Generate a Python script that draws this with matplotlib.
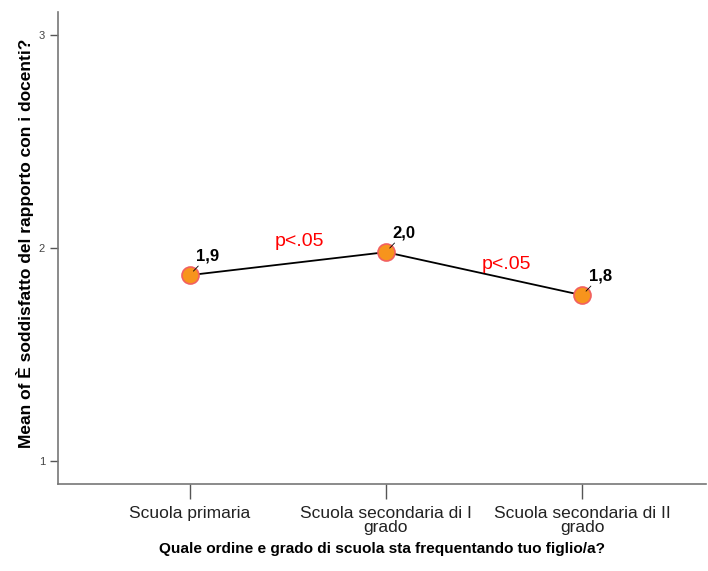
import numpy as np
import matplotlib
matplotlib.use('Agg')
import matplotlib.pyplot as plt

plt.rcParams['font.family'] = ['Liberation Sans', 'DejaVu Sans']

# dati
categorie = ['Scuola primaria', 'Scuola secondaria di I\ngrado', 'Scuola secondaria di II\ngrado']
medie = [1.873, 1.981, 1.779]
etichette = ['1,9', '2,0', '1,8']
sig_labels = ['p<.05', 'p<.05']
sig_pos = [(0.56, 1.99), (1.616, 1.883)]

fig = plt.figure(figsize=(7.08, 5.71), dpi=100)
ax = fig.add_axes([0.082, 0.152, 0.915, 0.827])

x = np.arange(len(categorie))
ax.plot(x, medie, color='black', lw=1.3, zorder=2)
ax.scatter(x, medie, s=150, color='#f7941d', edgecolor='#f26060', linewidth=1.2, zorder=3)

for xi, yi, lab in zip(x, medie, etichette):
    ax.annotate(lab, xy=(xi, yi), xytext=(xi + 0.035, yi + 0.07), fontsize=12, fontweight='bold',
                annotation_clip=False,
                arrowprops=dict(arrowstyle='-', color='black', lw=0.6, shrinkA=0, shrinkB=4))

for (sx, sy), s in zip(sig_pos, sig_labels):
    ax.text(sx, sy, s, color='red', fontsize=14, ha='center', va='bottom')

ax.set_xlim(-0.67, 2.63)
ax.set_ylim(0.892, 3.108)
ax.set_xticks(x)
ax.set_xticklabels(categorie, fontsize=12.5, color='#222222', linespacing=0.86)
ax.set_yticks([1, 2, 3])
ax.set_yticklabels(['1', '2', '3'], fontsize=8, color='#444444')

for s in ['top', 'right']:
    ax.spines[s].set_visible(False)
for s in ['left', 'bottom']:
    ax.spines[s].set_color('#777777')
    ax.spines[s].set_linewidth(1.2)
ax.tick_params(axis='both', direction='out', length=6, color='#555555', width=1)
ax.tick_params(axis='x', pad=5, length=11)

ax.set_xlabel('Quale ordine e grado di scuola sta frequentando tuo figlio/a?', fontsize=11.1,
              fontweight='bold', labelpad=5)
ax.set_ylabel('Mean of È soddisfatto del rapporto con i docenti?', fontsize=12.5,
              fontweight='bold', labelpad=3)
ax.yaxis.label.set_y(0.51)

fig.savefig('out.png', dpi=100)
